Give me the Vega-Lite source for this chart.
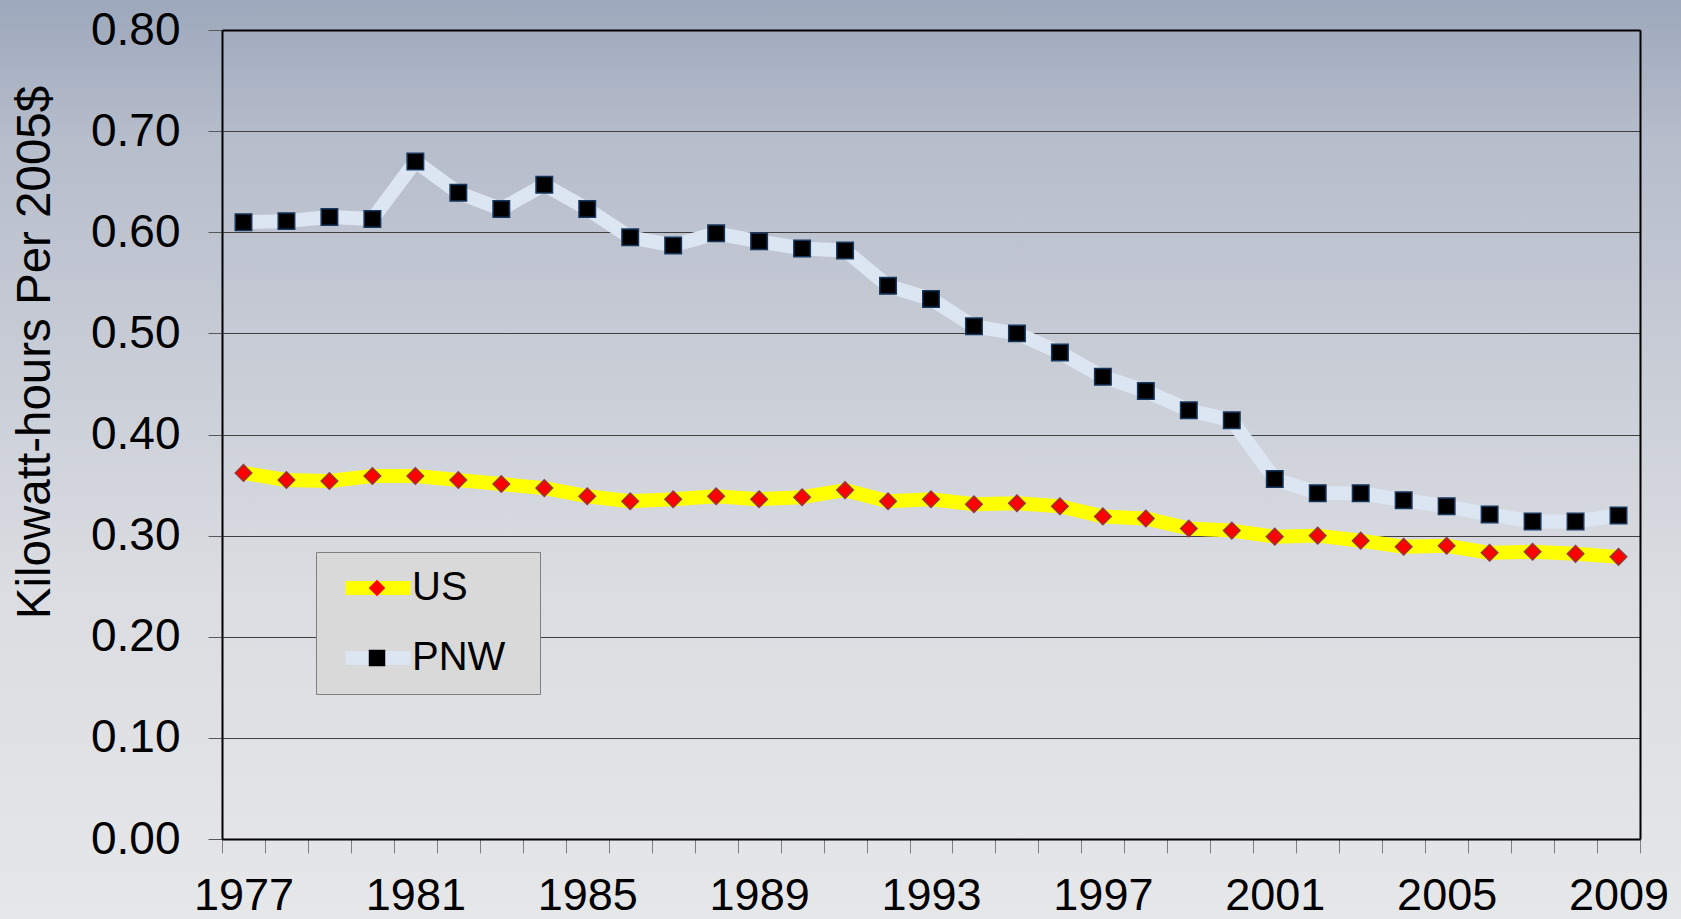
{
  "$schema": "https://vega.github.io/schema/vega-lite/v6.json",
  "width": 1681,
  "height": 919,
  "autosize": {"type": "none"},
  "padding": 0,
  "background": "#e6e7e9",
  "config": {
    "font": "Liberation Sans",
    "view": {
      "stroke": null,
      "fill": {
        "gradient": "linear", "x1": 0, "y1": 0, "x2": 0, "y2": 1,
        "stops": [
          {"offset": 0, "color": "#9da8bc"},
          {"offset": 0.152, "color": "#b6bdcb"},
          {"offset": 0.63, "color": "#dadce1"},
          {"offset": 1, "color": "#e6e7e9"}
        ]
      }
    }
  },
  "data": {
    "values": [
      {"year": 1977, "series": "PNW", "value": 0.610},
      {"year": 1978, "series": "PNW", "value": 0.611},
      {"year": 1979, "series": "PNW", "value": 0.615},
      {"year": 1980, "series": "PNW", "value": 0.613},
      {"year": 1981, "series": "PNW", "value": 0.670},
      {"year": 1982, "series": "PNW", "value": 0.639},
      {"year": 1983, "series": "PNW", "value": 0.623},
      {"year": 1984, "series": "PNW", "value": 0.647},
      {"year": 1985, "series": "PNW", "value": 0.623},
      {"year": 1986, "series": "PNW", "value": 0.595},
      {"year": 1987, "series": "PNW", "value": 0.587},
      {"year": 1988, "series": "PNW", "value": 0.599},
      {"year": 1989, "series": "PNW", "value": 0.591},
      {"year": 1990, "series": "PNW", "value": 0.584},
      {"year": 1991, "series": "PNW", "value": 0.582},
      {"year": 1992, "series": "PNW", "value": 0.547},
      {"year": 1993, "series": "PNW", "value": 0.534},
      {"year": 1994, "series": "PNW", "value": 0.507},
      {"year": 1995, "series": "PNW", "value": 0.500},
      {"year": 1996, "series": "PNW", "value": 0.481},
      {"year": 1997, "series": "PNW", "value": 0.457},
      {"year": 1998, "series": "PNW", "value": 0.443},
      {"year": 1999, "series": "PNW", "value": 0.424},
      {"year": 2000, "series": "PNW", "value": 0.414},
      {"year": 2001, "series": "PNW", "value": 0.356},
      {"year": 2002, "series": "PNW", "value": 0.342},
      {"year": 2003, "series": "PNW", "value": 0.342},
      {"year": 2004, "series": "PNW", "value": 0.335},
      {"year": 2005, "series": "PNW", "value": 0.329},
      {"year": 2006, "series": "PNW", "value": 0.321},
      {"year": 2007, "series": "PNW", "value": 0.314},
      {"year": 2008, "series": "PNW", "value": 0.314},
      {"year": 2009, "series": "PNW", "value": 0.320},
      {"year": 1977, "series": "US", "value": 0.362},
      {"year": 1978, "series": "US", "value": 0.355},
      {"year": 1979, "series": "US", "value": 0.354},
      {"year": 1980, "series": "US", "value": 0.359},
      {"year": 1981, "series": "US", "value": 0.359},
      {"year": 1982, "series": "US", "value": 0.355},
      {"year": 1983, "series": "US", "value": 0.351},
      {"year": 1984, "series": "US", "value": 0.347},
      {"year": 1985, "series": "US", "value": 0.339},
      {"year": 1986, "series": "US", "value": 0.334},
      {"year": 1987, "series": "US", "value": 0.336},
      {"year": 1988, "series": "US", "value": 0.339},
      {"year": 1989, "series": "US", "value": 0.336},
      {"year": 1990, "series": "US", "value": 0.338},
      {"year": 1991, "series": "US", "value": 0.345},
      {"year": 1992, "series": "US", "value": 0.334},
      {"year": 1993, "series": "US", "value": 0.336},
      {"year": 1994, "series": "US", "value": 0.331},
      {"year": 1995, "series": "US", "value": 0.332},
      {"year": 1996, "series": "US", "value": 0.329},
      {"year": 1997, "series": "US", "value": 0.319},
      {"year": 1998, "series": "US", "value": 0.317},
      {"year": 1999, "series": "US", "value": 0.307},
      {"year": 2000, "series": "US", "value": 0.305},
      {"year": 2001, "series": "US", "value": 0.299},
      {"year": 2002, "series": "US", "value": 0.300},
      {"year": 2003, "series": "US", "value": 0.295},
      {"year": 2004, "series": "US", "value": 0.289},
      {"year": 2005, "series": "US", "value": 0.290},
      {"year": 2006, "series": "US", "value": 0.283},
      {"year": 2007, "series": "US", "value": 0.284},
      {"year": 2008, "series": "US", "value": 0.282},
      {"year": 2009, "series": "US", "value": 0.279}
    ]
  },
  "layer": [
    {
      "mark": {"type": "line", "strokeWidth": 14, "strokeJoin": "round", "strokeCap": "butt"},
      "encoding": {
        "x": {
          "field": "year", "type": "quantitative",
          "scale": {"domain": [1976.5, 2009.5], "range": [222, 1640], "nice": false, "zero": false},
          "axis": {
            "orient": "bottom", "offset": -80, "title": null,
            "values": [1976.5, 1977.5, 1978.5, 1979.5, 1980.5, 1981.5, 1982.5, 1983.5, 1984.5, 1985.5, 1986.5, 1987.5, 1988.5, 1989.5, 1990.5, 1991.5, 1992.5, 1993.5, 1994.5, 1995.5, 1996.5, 1997.5, 1998.5, 1999.5, 2000.5, 2001.5, 2002.5, 2003.5, 2004.5, 2005.5, 2006.5, 2007.5, 2008.5, 2009.5],
            "labelExpr": "((datum.value + 0.5 - 1977) % 4 === 0) ? '' + (datum.value + 0.5) : ''",
            "labelOffset": 21.5, "labelOverlap": false, "labelBound": false, "labelFlush": false,
            "labelFontSize": 45, "labelColor": "#000000", "labelPadding": 20,
            "tickSize": 14, "tickColor": "#808080", "tickWidth": 1,
            "domainColor": "#000000", "domainWidth": 2, "grid": false
          }
        },
        "y": {
          "field": "value", "type": "quantitative",
          "scale": {"domain": [0, 0.8], "range": [839, 30], "nice": false, "zero": false},
          "axis": {
            "orient": "left", "offset": -222,
            "values": [0, 0.1, 0.2, 0.3, 0.4, 0.5, 0.6, 0.7, 0.8],
            "format": ".2f",
            "labelFontSize": 46, "labelColor": "#000000", "labelPadding": 28,
            "tickSize": 14, "tickColor": "#595959", "tickWidth": 1,
            "domainColor": "#000000", "domainWidth": 2,
            "grid": true, "gridColor": "#404040", "gridWidth": 1,
            "title": "Kilowatt-hours Per 2005$",
            "titleFontSize": 47.5, "titleFontWeight": "normal", "titleColor": "#000000",
            "titleAngle": -90, "titleAlign": "center", "titleBaseline": "middle",
            "titleX": -187, "titleY": 352
          }
        },
        "stroke": {
          "field": "series", "type": "nominal",
          "scale": {"domain": ["US", "PNW"], "range": ["#ffff00", "#dce6f2"]},
          "legend": {
            "orient": "none", "legendX": 316, "legendY": 552, "title": null,
            "symbolType": "stroke", "symbolSize": 4225, "symbolStrokeWidth": 14,
            "clipHeight": 40, "symbolOffset": 6.5,
            "labelExpr": "''",
            "labelFontSize": 40, "labelOpacity": 0, "labelOffset": 106.5,
            "rowPadding": 30, "padding": 16,
            "fillColor": "#d9d9d9", "strokeColor": "#7f7f7f", "zindex": 5
          }
        }
      }
    },
    {
      "mark": {"type": "point", "filled": true, "size": 272, "strokeWidth": 1.5, "opacity": 1},
      "encoding": {
        "x": {
          "field": "year", "type": "quantitative",
          "axis": {"orient": "top", "offset": -30, "title": null, "domain": true, "domainColor": "#000000", "domainWidth": 2, "ticks": false, "labels": false, "grid": false}
        },
        "y": {
          "field": "value", "type": "quantitative",
          "axis": {"orient": "right", "offset": -41, "title": null, "domain": true, "domainColor": "#000000", "domainWidth": 2, "ticks": false, "labels": false, "grid": false}
        },
        "shape": {
          "field": "series", "type": "nominal",
          "scale": {"domain": ["US", "PNW"], "range": ["diamond", "square"]},
          "legend": {
            "orient": "none", "legendX": 316, "legendY": 552, "title": null,
            "symbolSize": 272, "symbolStrokeWidth": 1.5, "symbolStrokeColor": "#4a2f3a",
            "symbolOffset": 25, "labelOffset": 15,
            "labelFontSize": 40, "labelColor": "#000000",
            "rowPadding": 30, "padding": 16, "zindex": 6
          }
        },
        "fill": {
          "field": "series", "type": "nominal",
          "scale": {"domain": ["US", "PNW"], "range": ["#ff0000", "#000000"]},
          "legend": {
            "orient": "none", "legendX": 316, "legendY": 552, "title": null,
            "symbolSize": 272, "symbolStrokeWidth": 1.5, "symbolStrokeColor": "#4a2f3a",
            "symbolOffset": 25, "labelOffset": 15,
            "labelFontSize": 40, "labelColor": "#000000",
            "rowPadding": 30, "padding": 16, "zindex": 6
          }
        },
        "stroke": {
          "condition": {"test": "datum.series === 'US'", "value": "#953735"},
          "value": "#17375e"
        }
      }
    }
  ],
  "resolve": {
    "axis": {"x": "independent", "y": "independent"},
    "legend": {"stroke": "independent"}
  }
}
